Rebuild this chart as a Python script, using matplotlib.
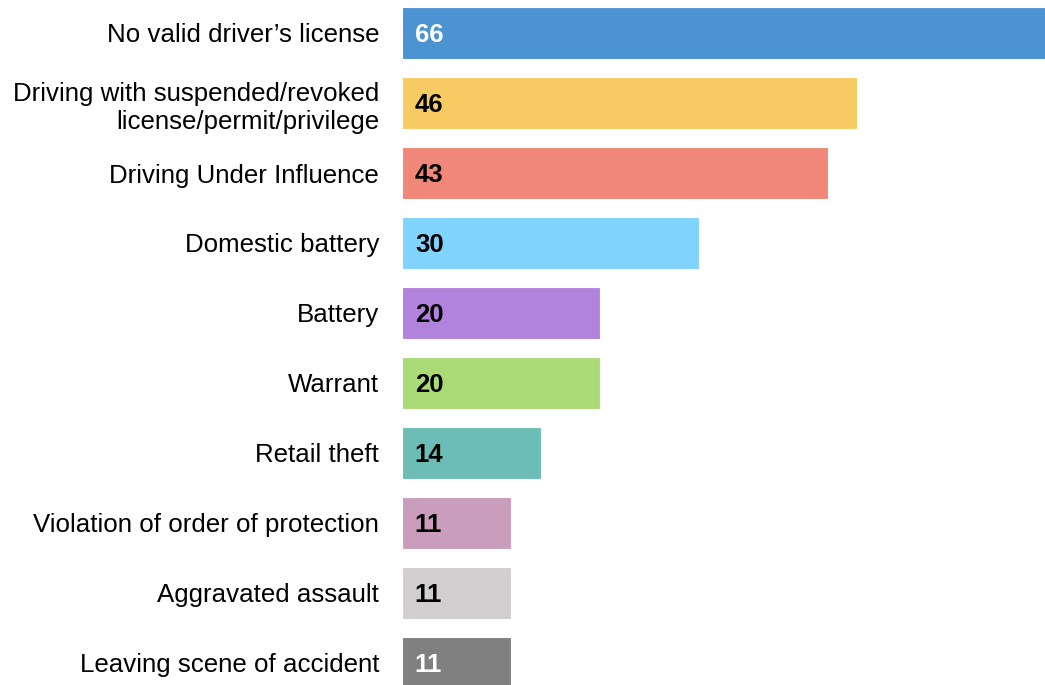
import matplotlib.pyplot as plt

plt.rcParams['font.family'] = ['Liberation Sans', 'DejaVu Sans']

categories = [
    "No valid driver\u2019s license",
    "Driving with suspended/revoked\nlicense/permit/privilege",
    "Driving Under Influence",
    "Domestic battery",
    "Battery",
    "Warrant",
    "Retail theft",
    "Violation of order of protection",
    "Aggravated assault",
    "Leaving scene of accident",
]
counts = [66, 46, 43, 30, 20, 20, 14, 11, 11, 11]
colors = ["#4C93D1", "#F7CB61", "#F08778", "#80D3FC", "#B283DD",
          "#AADB77", "#6BBDB5", "#CB9DBC", "#D0CECF", "#808080"]
text_colors = ["white", "black", "black", "black", "black",
               "black", "black", "black", "black", "white"]

fig = plt.figure(figsize=(10.45, 6.85), dpi=100)
ax = fig.add_axes([402 / 1045, 0, 643 / 1045, 1])

pos = list(range(len(categories)))
ax.barh(pos, counts, height=0.74, color=colors, edgecolor="white", linewidth=0.8)

for y, v, tc in zip(pos, counts, text_colors):
    ax.text(1.3, y + 0.03, str(v), va="center", ha="left", fontsize=18.5,
            fontweight="bold", color=tc)

ax.set_xlim(0, 643 / 9.9)
ax.set_ylim((685 - 33) / 70, -33 / 70)
ax.set_yticks(pos)
ax.set_yticklabels(categories, fontsize=18.6, linespacing=1.25)
ax.tick_params(axis="y", length=0, pad=16.5)
ax.set_xticks([])
for s in ax.spines.values():
    s.set_visible(False)

fig.savefig("out.png", dpi=100)
